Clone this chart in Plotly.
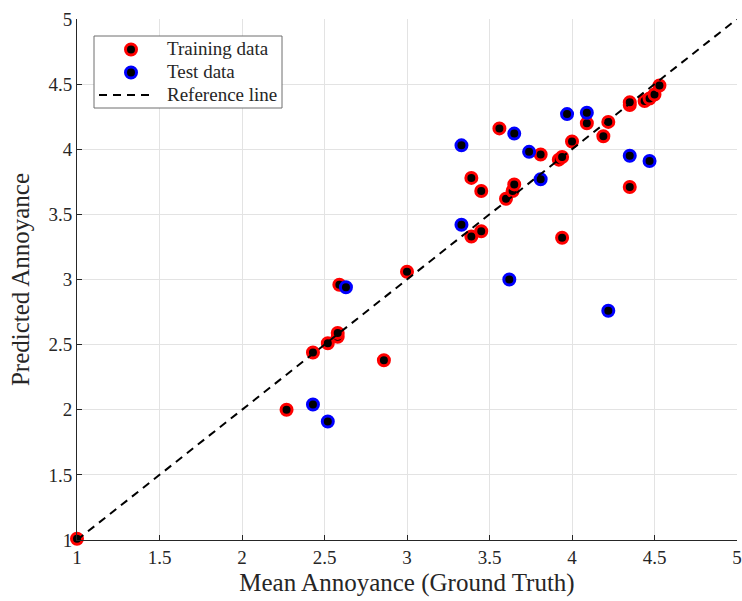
import plotly.graph_objects as go

# Training data (ground truth, predicted)
train_x = [1.00, 2.27, 2.43, 2.52, 2.58, 2.58, 2.59, 2.86, 3.00, 3.39, 3.39, 3.45, 3.45,
           3.56, 3.60, 3.64, 3.65, 3.81, 3.92, 3.94, 3.94, 4.00, 4.09, 4.19, 4.22,
           4.35, 4.35, 4.35, 4.44, 4.47, 4.50, 4.53]
train_y = [1.01, 2.00, 2.44, 2.51, 2.56, 2.59, 2.96, 2.38, 3.06, 3.78, 3.33, 3.68, 3.37,
           4.16, 3.62, 3.68, 3.73, 3.96, 3.92, 3.94, 3.32, 4.06, 4.20, 4.10, 4.21,
           4.34, 4.36, 3.71, 4.37, 4.39, 4.42, 4.49]

# Test data
test_x = [2.43, 2.52, 2.63, 3.33, 3.33, 3.62, 3.65, 3.74, 3.81, 3.97, 4.09, 4.22, 4.35, 4.47]
test_y = [2.04, 1.91, 2.94, 4.03, 3.42, 3.00, 4.12, 3.98, 3.77, 4.27, 4.28, 2.76, 3.95, 3.91]

# Reference line end points (y = x)
ref_line = [1, 5]

x_ticks = [1, 1.5, 2, 2.5, 3, 3.5, 4, 4.5, 5]
y_ticks = [1, 1.5, 2, 2.5, 3, 3.5, 4, 4.5, 5]

legend_labels = ["Training data", "Test data", "Reference line"]

FONT = "Liberation Serif, DejaVu Serif, serif"
TXT = "#262626"
RED = "#ff0000"
BLUE = "#0000ff"

fig = go.Figure()
fig.add_trace(go.Scatter(
    x=train_x, y=train_y, mode="markers", name=legend_labels[0], cliponaxis=False,
    marker=dict(size=11, color="black", line=dict(color=RED, width=3)),
))
fig.add_trace(go.Scatter(
    x=test_x, y=test_y, mode="markers", name=legend_labels[1], cliponaxis=False,
    marker=dict(size=11, color="black", line=dict(color=BLUE, width=3)),
))
fig.add_trace(go.Scatter(
    x=ref_line, y=ref_line, mode="lines", name=legend_labels[2],
    line=dict(color="black", width=2, dash="8px,6px"),
))

axis_common = dict(
    showgrid=True, gridcolor="#e3e3e3", gridwidth=1,
    showline=True, linecolor=TXT, linewidth=1,
    ticks="inside", ticklen=5, tickcolor=TXT,
    zeroline=False, mirror=False, automargin=False,
    tickfont=dict(family=FONT, size=19, color=TXT),
)

# ---- manual legend (paper coordinates; plot area 660 x 521 px) ----
PW, PH = 660.0, 521.0
def px(dx):
    return dx / PW
def py(dy):
    return 1 - dy / PH

shapes = [
    dict(type="rect", xref="paper", yref="paper",
         x0=px(17), x1=px(205), y0=py(89), y1=py(17),
         line=dict(color="#6e6e6e", width=1), fillcolor="white", layer="above"),
]
row_y = [29, 52, 75]
for col, yy in zip([RED, BLUE], row_y[:2]):
    shapes.append(dict(type="circle", xref="paper", yref="paper",
                       xsizemode="pixel", ysizemode="pixel",
                       xanchor=px(54), yanchor=py(yy + 1.5),
                       x0=-5.5, x1=5.5, y0=-5.5, y1=5.5,
                       fillcolor="black", line=dict(color=col, width=3), layer="above"))
shapes.append(dict(type="line", xref="paper", yref="paper",
                   x0=px(22), x1=px(78), y0=py(row_y[2] + 1), y1=py(row_y[2] + 1),
                   line=dict(color="black", width=2, dash="8px,6px"), layer="above"))

annotations = [
    dict(xref="paper", yref="paper", x=px(88), y=py(yy), text=lab,
         showarrow=False, xanchor="left", yanchor="middle",
         font=dict(family=FONT, size=19, color=TXT))
    for lab, yy in zip(legend_labels, row_y)
]

fig.update_layout(
    width=742, height=601,
    margin=dict(l=77, r=5, t=19, b=61),
    paper_bgcolor="white", plot_bgcolor="white",
    font=dict(family=FONT, color=TXT),
    xaxis=dict(range=[1, 5], tickvals=x_ticks, ticktext=[f"{v:g}" for v in x_ticks],
               title=dict(text="Mean Annoyance (Ground Truth)", font=dict(family=FONT, size=25), standoff=6),
               **axis_common),
    yaxis=dict(range=[1, 5], tickvals=y_ticks, ticktext=[f"{v:g}" for v in y_ticks],
               title=dict(text="Predicted Annoyance", font=dict(family=FONT, size=25), standoff=11),
               **axis_common),
    showlegend=False,
    shapes=shapes,
    annotations=annotations,
)

fig.write_html("out.html")
